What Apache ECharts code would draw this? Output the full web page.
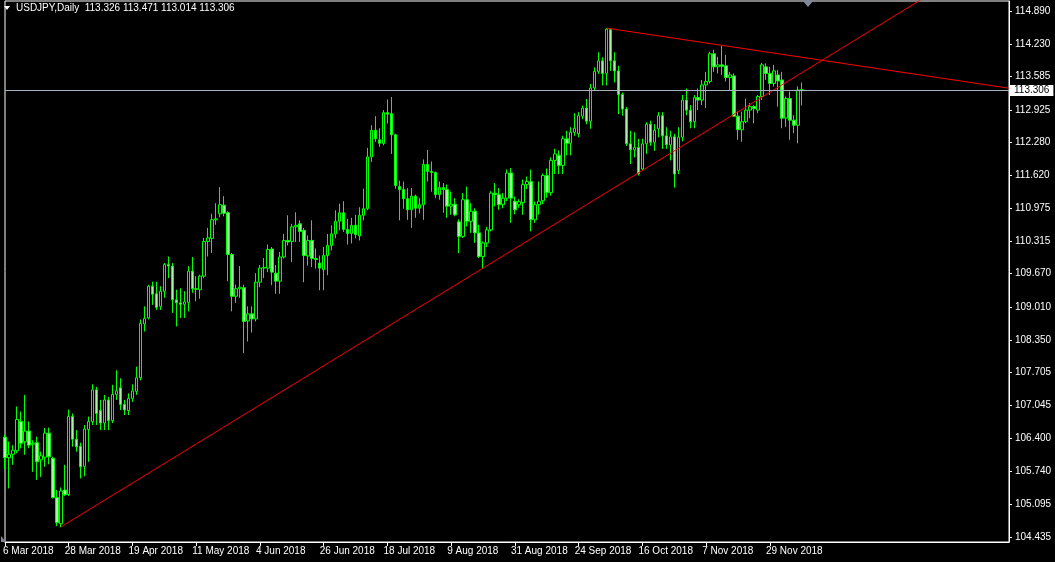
<!DOCTYPE html>
<html><head><meta charset="utf-8">
<script src="https://cdn.jsdelivr.net/npm/echarts@6/dist/echarts.min.js"></script>
<style>html,body{margin:0;padding:0;background:#000;overflow:hidden}#c{width:1055px;height:562px}</style>
</head><body><div id="c"></div>
<script>
const symbolName = 'USDJPY,Daily';
const startDate = '2018-03-06';
const totalSlots = 253;
const xTickLabels = ['6 Mar 2018','28 Mar 2018','19 Apr 2018','11 May 2018','4 Jun 2018','26 Jun 2018','18 Jul 2018','9 Aug 2018','31 Aug 2018','24 Sep 2018','16 Oct 2018','7 Nov 2018','29 Nov 2018'];
const yTickLabels = ['104.435','105.095','105.740','106.400','107.045','107.705','108.350','109.010','109.670','110.315','110.975','111.620','112.280','112.925','113.585','114.230','114.890'];
const lastQuote = [113.326, 113.471, 113.014, 113.306];

const open = [106.42,106.01,106.08,106.15,106.73,106.33,106.54,106.28,106.31,105.97,106.02,106.50,106.00,105.22,104.70,105.37,105.28,106.83,106.38,106.24,
105.84,106.57,106.73,107.36,106.95,106.70,107.16,106.75,107.27,107.40,107.07,106.95,107.19,107.33,107.60,108.67,108.79,109.42,109.27,109.02,
109.32,109.85,109.82,109.15,109.09,109.06,109.10,109.72,109.37,109.35,109.62,110.31,110.37,110.74,110.86,111.03,110.88,110.05,109.22,109.37,
109.39,108.73,108.87,108.77,109.50,109.78,109.78,110.16,109.68,109.52,110.00,110.33,110.31,110.60,110.66,110.53,110.02,110.33,109.97,109.88,
109.75,110.03,110.23,110.46,110.71,110.88,110.55,110.47,110.63,110.42,110.83,110.96,111.99,112.52,112.33,112.26,112.87,112.85,112.43,111.40,
111.34,111.16,110.94,111.21,110.97,111.04,111.84,111.70,111.68,111.24,111.38,111.34,111.01,111.05,110.70,110.41,111.14,110.71,110.91,110.48,
110.01,110.28,110.54,111.27,111.24,111.04,111.17,111.67,111.11,111.04,111.08,111.44,111.50,110.74,111.04,111.12,111.62,111.28,111.92,112.02,
111.82,112.35,112.26,112.48,112.45,112.80,112.96,112.70,113.36,113.69,113.90,113.65,114.52,113.90,113.70,113.23,112.94,112.25,112.13,112.18,
111.75,112.25,112.64,112.28,112.55,112.81,112.41,112.23,112.39,111.72,112.38,113.12,112.92,112.69,113.17,113.12,113.42,113.49,114.04,113.78,
113.82,113.80,113.57,113.60,112.80,112.53,112.69,112.92,112.99,112.92,113.19,113.78,113.65,113.45,113.62,113.52,112.76,113.15,112.72,112.62,
113.326];
const high = [106.47,106.33,106.26,107.03,106.93,107.26,106.73,106.36,106.43,106.13,106.60,106.61,106.03,105.37,105.42,105.87,106.97,106.89,106.56,106.31,
106.66,106.83,107.47,107.42,107.16,107.26,107.22,107.46,107.75,107.59,107.16,107.29,107.47,107.82,108.76,109.02,109.45,109.51,109.51,109.42,
109.88,110.01,109.88,109.35,109.38,109.32,109.82,110.00,109.62,109.65,110.38,110.58,110.86,111.07,111.39,111.21,110.91,110.08,109.45,109.82,
109.45,109.02,109.02,109.68,109.84,109.98,110.25,110.20,109.84,110.10,110.46,110.83,110.66,110.89,110.73,110.58,110.43,110.73,110.17,110.03,
110.20,110.46,110.63,110.93,111.06,111.11,110.76,110.78,110.84,110.99,111.36,112.17,112.62,112.80,112.56,112.92,113.13,113.18,112.45,111.52,
111.50,111.37,111.37,111.24,111.17,111.94,112.13,111.90,111.70,111.50,111.47,111.44,111.30,111.17,110.75,111.27,111.40,111.07,110.97,110.64,
110.31,110.60,111.31,111.47,111.37,111.27,111.74,111.77,111.20,111.15,111.54,111.60,111.74,111.10,111.50,111.66,111.76,111.98,112.15,112.12,
112.41,112.51,112.58,112.86,112.88,113.01,113.14,113.44,113.77,114.07,113.97,114.55,114.55,114.07,113.80,113.27,112.98,112.51,112.48,112.35,
112.35,112.68,112.71,112.64,112.88,112.88,112.58,112.51,112.45,112.58,113.22,113.35,113.02,113.22,113.35,113.52,113.68,114.08,114.12,113.98,
114.20,114.02,113.68,113.65,112.89,112.89,113.15,113.06,113.02,113.22,113.86,113.85,113.78,113.82,113.72,113.68,113.19,113.29,112.82,113.39,
113.471];
const low = [105.78,105.40,105.87,106.10,106.20,106.07,106.20,105.73,105.57,105.63,105.83,105.88,105.20,104.65,104.63,105.25,105.25,106.23,106.13,105.60,
105.64,105.93,106.66,106.66,106.56,106.56,106.56,106.70,107.16,106.96,106.86,106.86,107.12,107.26,107.55,108.52,108.76,109.05,108.95,108.95,
109.19,109.58,108.89,108.62,108.79,108.79,108.92,109.29,109.12,109.17,109.58,110.01,110.08,110.64,110.79,110.81,109.52,108.92,109.09,109.19,
108.09,108.32,108.50,108.72,109.40,109.58,109.70,109.44,109.27,109.27,109.97,110.23,109.90,110.30,110.30,109.50,109.83,109.80,109.77,109.34,
109.34,109.64,110.13,110.37,110.53,110.50,110.25,110.27,110.37,110.33,110.73,110.93,111.89,112.29,112.19,112.22,112.65,112.05,111.36,110.73,
110.96,110.74,110.58,110.78,110.87,110.74,111.50,111.30,111.17,111.14,110.88,110.78,110.84,110.81,110.08,110.38,110.61,110.48,110.28,109.98,
109.78,110.20,110.51,111.01,110.94,110.97,111.11,110.68,110.85,110.98,110.84,111.35,110.51,110.68,110.84,111.05,111.18,111.22,111.65,111.65,
111.65,112.02,112.02,112.41,112.38,112.74,112.64,112.55,113.31,113.64,113.41,113.41,113.70,113.47,112.84,112.81,112.21,111.85,111.98,111.62,
111.73,112.05,112.21,112.11,112.38,112.15,112.15,111.92,111.38,111.65,112.30,112.82,112.56,112.56,112.92,113.02,112.96,113.45,113.68,113.65,
113.62,113.49,113.32,112.79,112.33,112.29,112.66,112.76,112.66,112.86,113.12,113.52,113.22,113.39,112.99,112.56,112.59,112.33,112.46,112.26,
113.014];
const close = [106.01,106.08,106.16,106.77,106.30,106.54,106.26,106.30,105.93,106.05,106.50,106.03,105.22,104.72,105.35,105.28,106.83,106.38,106.23,105.83,
106.58,106.73,107.36,106.89,106.70,107.16,106.75,107.27,107.34,107.07,106.96,107.19,107.34,107.60,108.68,108.78,109.42,109.26,109.00,109.32,
109.85,109.82,109.15,109.09,109.06,109.11,109.72,109.37,109.36,109.62,110.31,110.38,110.74,110.76,111.04,110.87,110.05,109.22,109.37,109.40,
108.72,108.87,108.77,109.50,109.78,109.79,110.15,109.70,109.52,110.00,110.33,110.30,110.60,110.63,110.51,110.03,110.33,109.97,109.95,109.78,
110.03,110.23,110.46,110.71,110.88,110.55,110.47,110.63,110.45,110.83,110.96,111.99,112.52,112.35,112.26,112.87,112.84,112.43,111.42,111.34,
111.16,110.94,111.21,110.97,111.04,111.84,111.70,111.68,111.24,111.38,111.34,111.01,111.05,110.84,110.41,111.14,110.71,110.91,110.48,110.01,
110.28,110.54,111.27,111.24,111.04,111.17,111.67,111.17,110.94,111.10,111.44,111.50,110.74,111.04,111.11,111.62,111.28,111.92,112.05,111.82,
112.35,112.26,112.48,112.56,112.81,112.96,112.70,113.36,113.69,113.90,113.65,114.53,113.90,113.70,113.23,112.94,112.25,112.13,112.18,111.65,
112.25,112.64,112.28,112.52,112.81,112.41,112.23,112.39,111.65,112.38,113.12,112.92,112.69,113.17,113.12,113.42,113.49,114.04,113.78,113.82,
113.79,113.57,113.62,112.80,112.53,112.69,112.92,112.99,112.95,113.19,113.82,113.65,113.45,113.70,113.50,112.76,113.15,112.72,112.62,113.32,
113.306];

// trend lines: two anchor points each [bar index, price]
const supportLine = [[14, 104.634], [120, 109.78]];
const resistanceLine = [[151, 114.55], [180, 114.207]];

// ---- build ----
const dates = [];
{
  const d = new Date(startDate + 'T00:00:00Z');
  while (dates.length < totalSlots) {
    const wd = d.getUTCDay();
    if (wd !== 0 && wd !== 6) dates.push(d.toISOString().slice(0, 10));
    d.setUTCDate(d.getUTCDate() + 1);
  }
}
const ohlc = open.map((o, i) => [o, close[i], low[i], high[i]]);
const yTickValues = yTickLabels.map(Number);
function extendLine(p, xEnd) {
  const a = p[0], b = p[1];
  const s = (b[1] - a[1]) / (b[0] - a[0]);
  return [a, [xEnd, a[1] + s * (xEnd - a[0])]];
}
const showTick = (idx) => idx % 16 === 0 && idx < open.length;
const FONT = 'Liberation Sans';

const chart = echarts.init(document.getElementById('c'), null, {renderer: 'canvas'});
chart.setOption({
  backgroundColor: '#000',
  animation: false,
  grid: {left: 1, right: 46, top: 1, bottom: 20, show: true, borderColor: '#ffffff', borderWidth: 1, backgroundColor: '#000'},
  xAxis: {
    type: 'category', data: dates, boundaryGap: false,
    axisLine: {show: true, lineStyle: {color: '#ffffff', width: 1}},
    axisTick: {show: true, interval: (i) => showTick(i), length: 4, lineStyle: {color: '#ffffff'}},
    axisLabel: {interval: (i) => showTick(i),
      formatter: (v, i) => { const t = xTickLabels[Math.round(i / 16)] || ''; return i === 0 ? '{f|' + t + '}' : '{n|' + t + '}'; },
      color: '#ffffff', fontSize: 10, fontFamily: FONT, align: 'left', margin: 4,
      rich: {f: {color: '#ffffff', fontSize: 10, fontFamily: FONT, padding: [0, 0, 0, -2]},
             n: {color: '#ffffff', fontSize: 10, fontFamily: FONT, padding: [0, 0, 0, -4]}}},
    splitLine: {show: false}
  },
  yAxis: {
    type: 'value', position: 'right', min: 104.336, max: 115.089, scale: true,
    axisLine: {show: true, lineStyle: {color: '#ffffff', width: 1}},
    axisTick: {show: true, length: 3, lineStyle: {color: '#ffffff'}, customValues: yTickValues},
    axisLabel: {color: '#ffffff', fontSize: 10, fontFamily: FONT, margin: 6, customValues: yTickValues,
      formatter: (v) => v.toFixed(3)},
    splitLine: {show: false}
  },
  series: [
    {
      type: 'candlestick', data: ohlc, barWidth: 3,
      itemStyle: {color: '#000000', color0: '#a8f2a8', borderColor: '#00ff00', borderColor0: '#00ff00', borderWidth: 1},
      markLine: {
        symbol: 'none', silent: true, animation: false,
        data: [{yAxis: lastQuote[3]}],
        lineStyle: {color: '#a9b3c0', width: 1, type: 'solid'},
        label: {position: 'end', formatter: lastQuote[3].toFixed(3), backgroundColor: '#ffffff', color: '#000000',
          padding: [1, 4, 0, 5], fontSize: 10, fontFamily: FONT, distance: 0}
      }
    },
    {
      type: 'line', data: extendLine(supportLine, totalSlots - 1), showSymbol: false, silent: true,
      lineStyle: {color: '#ff0000', width: 1}, clip: true, z: 3
    },
    {
      type: 'line', data: extendLine(resistanceLine, totalSlots - 1), showSymbol: false, silent: true,
      lineStyle: {color: '#ff0000', width: 1}, clip: true, z: 3
    }
  ],
  graphic: [
    {type: 'polygon', shape: {points: [[4, 6], [10, 6], [7, 10]]}, style: {fill: '#ffffff'}},
    {type: 'text', left: 16, top: 3, style: {text: symbolName + '  ' + lastQuote.map(v => v.toFixed(3)).join(' '),
      fill: '#ffffff', fontSize: 10, fontFamily: FONT}},
    {type: 'polygon', shape: {points: [[802, 0], [814, 0], [808, 7]]}, style: {fill: '#7f8797'}},
    {type: 'polygon', shape: {points: [[1, 536], [1, 542], [6, 542]]}, style: {fill: '#7f8797'}}
  ]
});
</script></body></html>
